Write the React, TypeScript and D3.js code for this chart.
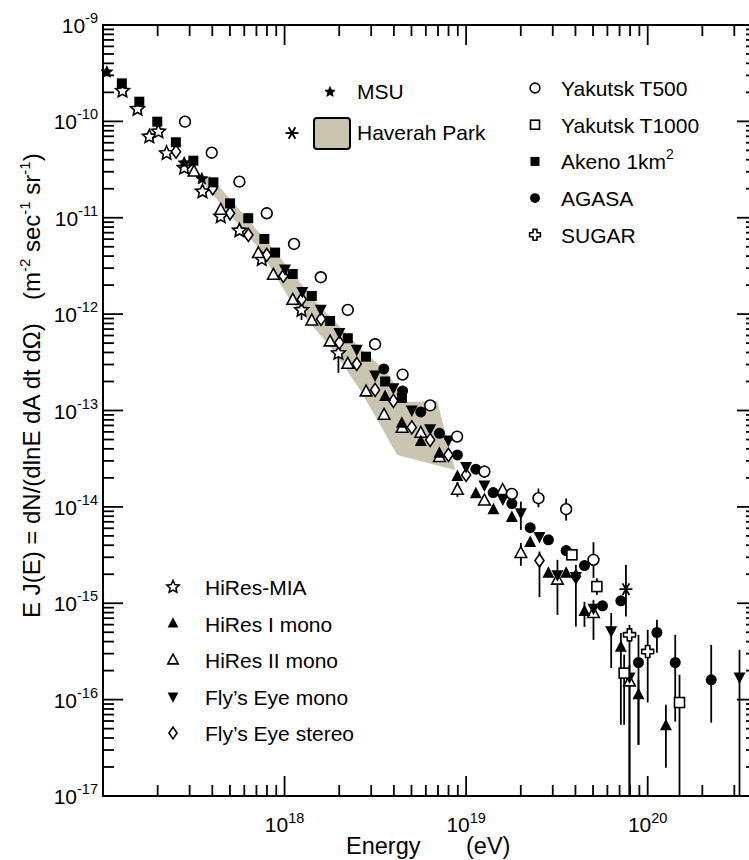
import React from "react";
import * as d3 from "d3";

type P = [number, number];
type Eb = [number, number, number];

// ---- data (E in eV, J in m^-2 s^-1 sr^-1) ----
const msu: P[] = [[1.05e17, 3.25e-10], [2.8e17, 3.7e-11], [3.5e17, 2.53e-11]];

const hiresMia: P[] = [
  [1.28e17, 2.07e-10], [1.55e17, 1.34e-10], [1.8e17, 6.94e-11], [2.02e17, 7.82e-11],
  [2.24e17, 4.67e-11], [2.8e17, 3.29e-11], [3.53e17, 1.87e-11], [4.45e17, 1.03e-11],
  [5.64e17, 7.35e-12], [7.49e17, 3.71e-12], [1.24e18, 1.1e-12], [1.98e18, 3.93e-13],
];
const hiresMiaErr: Eb[] = [[1.24e18, 8.7e-13, 1.34e-12], [1.98e18, 2.46e-13, 4.79e-13]];

const akeno: P[] = [
  [1.27e17, 2.48e-10], [1.585e17, 1.6e-10], [1.99e17, 9.93e-11], [2.52e17, 6.07e-11],
  [3.145e17, 3.91e-11], [4.055e17, 2.33e-11], [5.01e17, 1.41e-11], [6.31e17, 9.89e-12],
  [7.74e17, 6.03e-12], [8.87e17, 4.35e-12], [1.109e18, 2.61e-12], [1.413e18, 1.545e-12],
  [1.782e18, 8.49e-13], [2.23e18, 5.62e-13], [2.81e18, 3.62e-13], [3.58e18, 2.0e-13],
  [4.43e18, 1.35e-13],
];

const yakutsk500: P[] = [
  [2.83e17, 9.93e-11], [3.97e17, 4.73e-11], [5.64e17, 2.37e-11], [7.98e17, 1.113e-11],
  [1.128e18, 5.35e-12], [1.583e18, 2.414e-12], [2.229e18, 1.105e-12], [3.152e18, 4.87e-13],
  [4.467e18, 2.357e-13], [6.335e18, 1.13e-13], [8.92e18, 5.36e-14], [1.261e19, 2.323e-14],
  [1.786e19, 1.365e-14], [2.503e19, 1.231e-14], [3.556e19, 9.46e-15], [5.028e19, 2.82e-15],
];
const yakutsk500Err: Eb[] = [
  [1.261e19, 2.0e-14, 2.7e-14], [2.503e19, 9.9e-15, 1.55e-14], [3.556e19, 7.2e-15, 1.22e-14],
  [5.028e19, 1.83e-15, 4.3e-15],
];

const yakutsk1000: P[] = [[3.824e19, 3.18e-15], [5.25e19, 1.49e-15], [7.42e19, 1.884e-16], [1.497e20, 9.33e-17]];
const yakutsk1000Err: Eb[] = [[5.25e19, 1.222e-15, 1.813e-15], [7.42e19, 5.48e-17, 2.92e-16], [1.497e20, 1e-18, 1.81e-16]];

const agasa: P[] = [
  [3.521e18, 2.7e-13], [4.468e18, 1.597e-13], [5.628e18, 9.67e-14], [7.128e18, 5.79e-14],
  [8.954e18, 3.462e-14], [1.131e19, 2.461e-14], [1.409e19, 1.407e-14], [1.786e19, 1.082e-14],
  [2.253e19, 6.085e-15], [2.84e19, 4.546e-15], [3.556e19, 3.522e-15], [4.485e19, 2.461e-15],
  [5.636e19, 9.4e-16], [7.116e19, 1.059e-15], [8.898e19, 2.427e-16], [1.124e20, 4.97e-16],
  [1.418e20, 2.427e-16], [2.238e20, 1.605e-16],
];
const agasaErr: Eb[] = [
  [8.898e19, 3.4e-17, 4.7e-16], [1.124e20, 3.06e-16, 6.73e-16], [1.418e20, 5.91e-17, 4.7e-16],
  [2.238e20, 5.77e-17, 3.7e-16],
];

const sugar: P[] = [[7.94e19, 4.7e-16], [1.0e20, 3.155e-16]];
const sugarErr: Eb[] = [[7.94e19, 1e-18, 5.97e-16], [1.0e20, 9.33e-17, 5.3e-16]];

const haverahPoint: P[] = [[7.59e19, 1.4e-15]];
const haverahErr: Eb[] = [[7.59e19, 7.28e-16, 2.5e-15]];

const haverahBandUpper: P[] = [
  [3.886e17, 2.715e-11], [8.753e17, 4.634e-12], [1.454e18, 1.404e-12], [2.673e18, 4.253e-13],
  [3.578e18, 2.637e-13], [4.73e18, 1.228e-13], [6.921e18, 1.258e-13], [8.696e18, 2.42e-14],
];
const haverahBandLower: P[] = [
  [4.167e18, 3.462e-14], [3.489e18, 6.291e-14], [2.606e18, 1.636e-13], [1.85e18, 4.253e-13],
  [1.072e18, 1.404e-12], [7.328e17, 4.634e-12], [3.295e17, 2.715e-11],
];

const hires1: P[] = [
  [3.579e18, 1.394e-13], [4.424e18, 7.38e-14], [5.628e18, 4.757e-14], [7.128e18, 3.606e-14],
  [8.954e18, 2.062e-14], [1.131e19, 1.365e-14], [1.414e19, 9.31e-15], [1.786e19, 7.78e-15],
  [2.253e19, 4.264e-15], [2.84e19, 2.052e-15], [3.556e19, 2.052e-15], [4.485e19, 8.2e-16],
  [7.116e19, 3.487e-16], [8.898e19, 1.121e-16], [1.26e20, 5.35e-17],
];
const hires1Err: Eb[] = [
  [4.485e19, 5.69e-16, 1.034e-15], [7.116e19, 5.48e-17, 4.93e-16], [8.898e19, 3.4e-17, 1.605e-16],
  [1.26e20, 1.96e-17, 8.83e-17],
];

const hires2: P[] = [
  [3.172e17, 3.007e-11], [4.452e17, 1.205e-11], [7.172e17, 4.28e-12], [8.675e17, 2.55e-12],
  [1.11e18, 1.404e-12], [1.412e18, 8.56e-13], [1.781e18, 5.185e-13], [2.229e18, 3.043e-13],
  [2.812e18, 1.571e-13], [3.533e18, 9.0e-14], [4.441e18, 6.6e-14], [5.628e18, 5.855e-14],
  [7.128e18, 3.278e-14], [8.954e18, 1.501e-14], [1.261e19, 1.16e-14], [1.589e19, 1.49e-14],
  [2.002e19, 3.309e-15], [3.184e19, 1.75e-15], [5.028e19, 7.89e-16], [7.94e19, 1.541e-16],
];
const hires2Err: Eb[] = [
  [8.954e18, 1.27e-14, 1.817e-14], [2.002e19, 2.443e-15, 4.232e-15], [5.028e19, 4.17e-16, 1.084e-15],
  [7.94e19, 1e-18, 2.296e-16],
];

const flysMono: P[] = [
  [1.006e18, 2.943e-12], [1.253e18, 1.712e-12], [1.583e18, 1.124e-12], [2.004e18, 6.43e-13],
  [2.499e18, 4.324e-13], [3.152e18, 2.34e-13], [3.976e18, 1.724e-13], [5.02e18, 1.014e-13],
  [6.335e18, 6.475e-14], [7.988e18, 4.955e-14], [1.0e19, 2.618e-14], [1.261e19, 1.691e-14],
  [1.593e19, 1.21e-14], [2.002e19, 8.665e-15], [2.535e19, 4.919e-15], [3.184e19, 1.971e-15],
  [4.022e19, 1.892e-15], [5.028e19, 8.897e-16], [6.295e19, 5.173e-16], [7.94e19, 1.712e-16],
  [3.204e20, 1.712e-16],
];
const flysMonoErr: Eb[] = [
  [2.002e19, 5.774e-15, 1.135e-14], [3.184e19, 7.58e-16, 2.82e-15], [4.022e19, 5.73e-16, 2.5e-15],
  [6.295e19, 2.133e-16, 7.93e-16], [3.204e20, 1e-18, 3.285e-16],
];

const flysStereo: P[] = [
  [2.525e17, 4.85e-11], [4.022e17, 2.023e-11], [5.009e17, 1.113e-11], [6.32e17, 6.63e-12],
  [7.98e17, 4.113e-12], [9.849e17, 2.49e-12], [1.244e18, 1.428e-12], [1.589e18, 8.92e-13],
  [2.004e18, 5.063e-13], [2.499e18, 3.043e-13], [3.152e18, 1.636e-13], [3.976e18, 1.258e-13],
  [5.02e18, 6.68e-14], [6.335e18, 4.955e-14], [7.988e18, 3.462e-14], [1.0e19, 2.148e-14],
  [2.535e19, 2.773e-15], [4.022e19, 1.892e-15],
];
const flysStereoErr: Eb[] = [[2.535e19, 1.157e-15, 3.44e-15]];

const xTickExps = [18, 19, 20];
const yTickExps = [-9, -10, -11, -12, -13, -14, -15, -16, -17];

const legendTopRight = ["Yakutsk T500", "Yakutsk T1000", "Akeno 1km", "AGASA", "SUGAR"];
const legendBottomLeft = ["HiRes-MIA", "HiRes I mono", "HiRes II mono", "Fly\u2019s Eye mono", "Fly\u2019s Eye stereo"];

// ---- drawing ----
const W = 749;
const H = 860;
const FONT = "'Liberation Sans', Arial, Helvetica, sans-serif";
const BAND = "#c9c5b0";

const x = d3.scaleLog().domain([1e17, 4e20]).range([103, 757]);
const y = d3.scaleLog().domain([1e-17, 1e-9]).range([796, 25]);

function starPts(r: number, ri: number): string {
  const pts: string[] = [];
  for (let i = 0; i < 10; i++) {
    const a = -Math.PI / 2 + (i * Math.PI) / 5;
    const rr = i % 2 === 0 ? r : ri;
    pts.push(`${(rr * Math.cos(a)).toFixed(2)},${(rr * Math.sin(a)).toFixed(2)}`);
  }
  return pts.join(" ");
}

type Kind =
  | "circleOpen" | "circleFilled" | "squareOpen" | "squareFilled" | "triUpFilled" | "triUpOpen"
  | "triDownFilled" | "diamondOpen" | "starOpen" | "starFilled" | "asterisk" | "crossOpen";

function Marker({ kind, cx, cy, s = 1 }: { kind: Kind; cx: number; cy: number; s?: number }) {
  const t = `translate(${cx},${cy}) scale(${s})`;
  const sw = 1.6 / s;
  switch (kind) {
    case "circleOpen":
      return <circle transform={t} r={5.4} fill="#fff" stroke="#000" strokeWidth={sw} />;
    case "circleFilled":
      return <circle transform={t} r={5.5} fill="#000" />;
    case "squareOpen":
      return <rect transform={t} x={-5} y={-5} width={10} height={10} fill="#fff" stroke="#000" strokeWidth={sw} />;
    case "squareFilled":
      return <rect transform={t} x={-5} y={-5} width={10} height={10} fill="#000" />;
    case "triUpFilled":
      return <polygon transform={t} points="0,-7 6,4.5 -6,4.5" fill="#000" />;
    case "triUpOpen":
      return <polygon transform={t} points="0,-6.5 5.8,4.3 -5.8,4.3" fill="#fff" stroke="#000" strokeWidth={sw} strokeLinejoin="miter" />;
    case "triDownFilled":
      return <polygon transform={t} points="0,7 6,-4.5 -6,-4.5" fill="#000" />;
    case "diamondOpen":
      return <polygon transform={t} points="0,-6.5 4.5,0 0,6.5 -4.5,0" fill="#fff" stroke="#000" strokeWidth={sw} />;
    case "starOpen":
      return <polygon transform={t} points={starPts(7.2, 3.4)} fill="#fff" stroke="#000" strokeWidth={sw} />;
    case "starFilled":
      return <polygon transform={t} points={starPts(6.3, 2.9)} fill="#000" stroke="#000" strokeWidth={0.8 / s} />;
    case "asterisk":
      return (
        <g transform={t} stroke="#000" strokeWidth={1.8 / s}>
          <line x1={-6.5} y1={0} x2={6.5} y2={0} />
          <line x1={-3.4} y1={-5.8} x2={3.4} y2={5.8} />
          <line x1={-3.4} y1={5.8} x2={3.4} y2={-5.8} />
        </g>
      );
    case "crossOpen":
      return (
        <polygon
          transform={t}
          points="-2.2,-6 2.2,-6 2.2,-2.2 6,-2.2 6,2.2 2.2,2.2 2.2,6 -2.2,6 -2.2,2.2 -6,2.2 -6,-2.2 -2.2,-2.2"
          fill="#fff"
          stroke="#000"
          strokeWidth={sw}
          strokeLinejoin="round"
        />
      );
  }
  return null;
}

function ErrBars({ data }: { data: Eb[] }) {
  const [y0, y1] = y.domain();
  return (
    <g stroke="#000" strokeWidth={1.8}>
      {data.map((d, i) => (
        <line key={i} x1={x(d[0])} x2={x(d[0])} y1={y(Math.max(d[1], y0))} y2={y(Math.min(d[2], y1))} />
      ))}
    </g>
  );
}

function Series({ data, kind }: { data: P[]; kind: Kind }) {
  return (
    <g>
      {data.map((d, i) => (
        <Marker key={i} kind={kind} cx={x(d[0])} cy={y(d[1])} />
      ))}
    </g>
  );
}

const isMajor = (v: number) => Math.abs(Math.log10(v) - Math.round(Math.log10(v))) < 1e-6;

export default function App() {
  const [xl, xr] = x.range();
  const [yb, yt] = y.range();
  const xt = x.ticks();
  const yticks = y.ticks();
  const bandPts = [...haverahBandUpper, ...haverahBandLower].map((d) => `${x(d[0])},${y(d[1])}`).join(" ");

  const leftLegendSyms: Kind[] = ["starOpen", "triUpFilled", "triUpOpen", "triDownFilled", "diamondOpen"];
  const rightLegendSyms: Kind[] = ["circleOpen", "squareOpen", "squareFilled", "circleFilled", "crossOpen"];

  return (
    <div style={{ position: "absolute", left: 0, top: 0 }}>
      <svg width={W} height={H} style={{ display: "block", background: "#fff" }} fontFamily={FONT}>
        <rect width={W} height={H} fill="#fff" />
        {/* Haverah Park band */}
        <polygon points={bandPts} fill={BAND} stroke="none" />

        {/* error bars */}
        <ErrBars data={hiresMiaErr} />
        <ErrBars data={yakutsk500Err} />
        <ErrBars data={yakutsk1000Err} />
        <ErrBars data={agasaErr} />
        <ErrBars data={sugarErr} />
        <ErrBars data={haverahErr} />
        <ErrBars data={hires1Err} />
        <ErrBars data={hires2Err} />
        <ErrBars data={flysMonoErr} />
        <ErrBars data={flysStereoErr} />

        {/* data series */}
        <Series data={hiresMia} kind="starOpen" />
        <Series data={msu} kind="starFilled" />
        <Series data={flysStereo} kind="diamondOpen" />
        <Series data={hires2} kind="triUpOpen" />
        <Series data={akeno} kind="squareFilled" />
        <Series data={flysMono} kind="triDownFilled" />
        <Series data={hires1} kind="triUpFilled" />
        <Series data={agasa} kind="circleFilled" />
        <Series data={yakutsk500} kind="circleOpen" />
        <Series data={yakutsk1000} kind="squareOpen" />
        <Series data={sugar} kind="crossOpen" />
        <Series data={haverahPoint} kind="asterisk" />

        {/* frame */}
        <rect x={xl} y={yt} width={xr - xl} height={yb - yt} fill="none" stroke="#000" strokeWidth={2} />

        {/* ticks */}
        <g stroke="#000" strokeWidth={1.8}>
          {xt.map((v, i) => {
            const L = isMajor(v) ? 20 : 11;
            const px = x(v);
            return (
              <g key={i}>
                <line x1={px} x2={px} y1={yb} y2={yb - L} />
                <line x1={px} x2={px} y1={yt} y2={yt + L} />
              </g>
            );
          })}
          {yticks.map((v, i) => {
            const L = isMajor(v) ? 20 : 11;
            const py = y(v);
            return (
              <g key={i}>
                <line x1={xl} x2={xl + L} y1={py} y2={py} />
                <line x1={xr} x2={xr - L} y1={py} y2={py} />
              </g>
            );
          })}
        </g>

        {/* x tick labels */}
        {xTickExps.map((e) => (
          <text key={e} x={x(Math.pow(10, e))} y={832} textAnchor="middle" fontSize={21} fill="#000">
            10
            <tspan fontSize={14.5} dy={-9}>
              {e}
            </tspan>
          </text>
        ))}
        {/* y tick labels */}
        {yTickExps.map((e) => (
          <text key={e} x={98} y={y(Math.pow(10, e)) + 8} textAnchor="end" fontSize={21} fill="#000">
            10
            <tspan fontSize={14.5} dy={-10}>
              {String(e)}
            </tspan>
          </text>
        ))}

        {/* axis titles */}
        <text x={346} y={854} fontSize={23.5} fill="#000">
          Energy
        </text>
        <text x={466} y={854} fontSize={23.5} fill="#000">
          (eV)
        </text>
        <text transform="translate(40,618) rotate(-90)" fontSize={24} fill="#000">
          E J(E) = dN/(dlnE dA dt d&#937;)
        </text>
        <text transform="translate(40,300) rotate(-90)" fontSize={24} fill="#000">
          (m<tspan fontSize={15} dy={-10}>-2</tspan>
          <tspan dy={10}> sec</tspan>
          <tspan fontSize={15} dy={-10}>-1</tspan>
          <tspan dy={10}> sr</tspan>
          <tspan fontSize={15} dy={-10}>-1</tspan>
          <tspan dy={10}>)</tspan>
        </text>

        {/* legend: MSU & Haverah Park */}
        <Marker kind="starFilled" cx={330} cy={92} s={0.85} />
        <text x={357} y={99} fontSize={21}>MSU</text>
        <Marker kind="asterisk" cx={292} cy={133} />
        <rect x={314} y={118} width={36} height={31} rx={3} fill={BAND} stroke="#000" strokeWidth={2} />
        <text x={357} y={140} fontSize={21}>Haverah Park</text>

        {/* legend: right */}
        {legendTopRight.map((name, i) => {
          const cy = 88 + i * 36.7;
          return (
            <g key={name}>
              <Marker kind={rightLegendSyms[i]} cx={535} cy={cy} s={0.9} />
              <text x={561} y={cy + 8} fontSize={21}>
                {name}
                {i === 2 ? (
                  <tspan fontSize={14} dy={-10}>
                    2
                  </tspan>
                ) : null}
              </text>
            </g>
          );
        })}

        {/* legend: bottom left */}
        {legendBottomLeft.map((name, i) => {
          const cy = 587 + i * 36.5;
          return (
            <g key={name}>
              <Marker kind={leftLegendSyms[i]} cx={173} cy={cy} s={0.9} />
              <text x={205} y={cy + 8} fontSize={21}>
                {name}
              </text>
            </g>
          );
        })}
      </svg>
    </div>
  );
}
